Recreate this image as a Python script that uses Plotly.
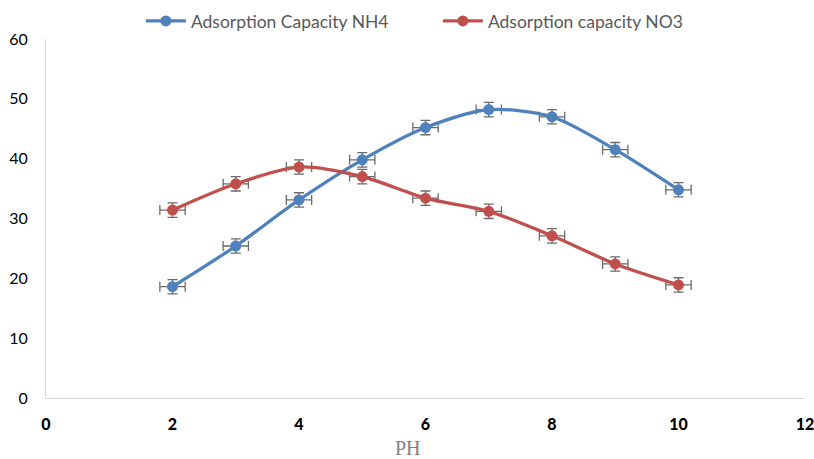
import plotly.graph_objects as go

ph = [2, 3, 4, 5, 6, 7, 8, 9, 10]
nh4 = [18.6, 25.4, 33.1, 39.8, 45.2, 48.2, 47.0, 41.5, 34.8]
no3 = [31.4, 35.8, 38.6, 37.0, 33.4, 31.2, 27.1, 22.4, 18.9]
y_err = 1.2
x_err = 0.2

fig = go.Figure()
for name, vals, color in [
    ("Adsorption Capacity NH4", nh4, "#4F81BD"),
    ("Adsorption capacity NO3", no3, "#C0504D"),
]:
    fig.add_trace(go.Scatter(
        x=ph, y=vals, name=name, mode="lines+markers",
        line=dict(color=color, width=3.3, shape="spline", smoothing=0.8),
        marker=dict(color=color, size=11),
        error_y=dict(type="constant", value=y_err, color="#6b6b6b", thickness=1.3, width=5),
        error_x=dict(type="constant", value=x_err, color="#6b6b6b", thickness=1.3, width=5),
    ))

fig.add_annotation(text="PH", xref="paper", yref="paper", x=0.477, y=-0.139,
                   xanchor="center", yanchor="middle", showarrow=False,
                   font=dict(family="Liberation Serif, serif", size=20, color="#7f7f7f"))

fig.update_layout(
    width=814, height=459,
    margin=dict(l=46, r=9, t=39, b=61, autoexpand=False),
    paper_bgcolor="white", plot_bgcolor="white",
    font=dict(family="Lato, Open Sans, sans-serif", size=16, color="#404040"),
    legend=dict(orientation="h", x=0.125, xanchor="left", y=1.0, yanchor="bottom",
                font=dict(size=17.5, color="#595959"), itemwidth=40,
                entrywidth=242, entrywidthmode="pixels"),
    xaxis=dict(range=[0, 12], dtick=2, showgrid=False, zeroline=False, automargin=False,
               showline=True, linecolor="#d9d9d9", linewidth=1, ticklabeloverflow="allow",
               tickfont=dict(size=16, color="#000000", family="Lato Black, Lato, sans-serif"),
               ticks="", ticklabelstandoff=12),
    yaxis=dict(range=[0, 60], dtick=10, showgrid=False, zeroline=False, automargin=False,
               showline=True, linecolor="#d9d9d9", linewidth=1,
               tickfont=dict(size=16, color="#000000"), ticks="", ticklabelstandoff=14),
)
fig.write_html("out.html")
